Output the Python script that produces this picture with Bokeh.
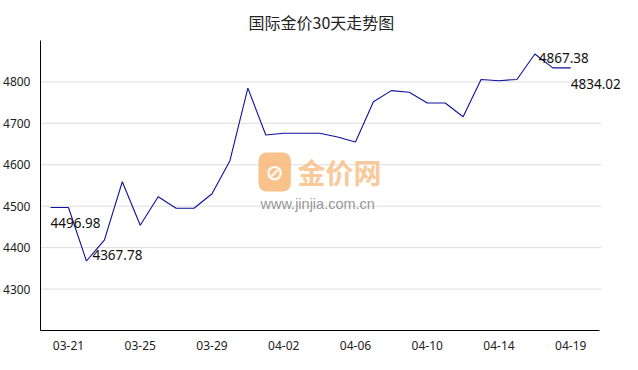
from bokeh.plotting import figure
from bokeh.models import ColumnDataSource, FixedTicker, Range1d, Label
from bokeh.embed import file_html
from bokeh.resources import INLINE

dates = ["03-21", "03-22", "03-23", "03-24", "03-25", "03-26", "03-27", "03-28",
         "03-29", "03-30", "03-31", "04-01", "04-02", "04-03", "04-04", "04-05",
         "04-06", "04-07", "04-08", "04-09", "04-10", "04-11", "04-12", "04-13",
         "04-14", "04-15", "04-16", "04-17", "04-18", "04-19"]
prices = [4496.98, 4497.0, 4367.78, 4418.0, 4559.0, 4454.0, 4523.0, 4495.0,
          4495.0, 4530.0, 4610.0, 4785.0, 4672.0, 4676.0, 4676.0, 4676.0,
          4667.0, 4655.0, 4752.0, 4779.0, 4775.0, 4749.0, 4749.0, 4716.0,
          4806.0, 4803.0, 4806.0, 4867.38, 4834.0, 4834.02]
tick_labels = ["03-21", "03-25", "03-29", "04-02", "04-06", "04-10", "04-14", "04-19"]
y_ticks = [4300, 4400, 4500, 4600, 4700, 4800]
title_text = "国际金价30天走势图"

idx = list(range(len(prices)))
imin = prices.index(min(prices))
imax = prices.index(max(prices))
ann_idx = [0, imin, imax, len(prices) - 1]
ann_dx = [0, 6, 4, 0]
ann_dy = [-16, 6, -4, -16]   # positive = up

# axis extent (in index units) and extra room on the right for the last label
x_lo, x_hi, x_view = -0.56, 30.6, 32.22
y_lo, y_hi = 4200, 4900

p = figure(width=638, height=370, output_backend="svg", toolbar_location=None,
           x_range=Range1d(x_lo, x_view), y_range=Range1d(y_lo, y_hi),
           min_border_left=40, min_border_right=10, min_border_top=40, min_border_bottom=40,
           title=title_text)
p.title.align = "left"
p.title.offset = 208
p.title.text_font = "Noto Sans CJK SC"
p.title.text_font_size = "16px"
p.title.text_font_style = "normal"
p.title.text_color = "#222222"
p.title.standoff = 13
p.outline_line_color = None
p.background_fill_color = "white"
p.border_fill_color = "white"

# horizontal grid lines limited to the axis extent
p.segment(x0=[x_lo] * len(y_ticks), y0=y_ticks, x1=[x_hi + 0.1] * len(y_ticks), y1=y_ticks,
          line_color="#dddddd", line_width=1)

# watermark (screen units, relative to the plot frame)
p.add_layout(Label(x=218, y=139, x_units="screen", y_units="screen", text="⊘",
                   text_font="DejaVu Sans", text_font_size="22px", text_color="white",
                   text_font_style="bold",
                   background_fill_color="#f9b777", background_fill_alpha=0.85,
                   border_radius=8, padding=7, text_alpha=0.95))
p.add_layout(Label(x=257, y=139, x_units="screen", y_units="screen", text="金价网",
                   text_font="Noto Sans CJK SC", text_font_size="28px",
                   text_font_style="bold", text_color="#f9c28c", text_alpha=0.9))
p.add_layout(Label(x=220, y=119, x_units="screen", y_units="screen", text="www.jinjia.com.cn",
                   text_font="Liberation Sans", text_font_size="14.5px",
                   text_color="#8a8a8a", text_alpha=0.9))

src = ColumnDataSource(dict(x=idx, y=prices))
p.line("x", "y", source=src, line_color="#10109c", line_width=1.1)

for i, dx, dy in zip(ann_idx, ann_dx, ann_dy):
    p.add_layout(Label(x=idx[i], y=prices[i], text="%.2f" % prices[i],
                       x_offset=dx, y_offset=dy,
                       text_font="Noto Sans", text_font_size="13.5px", text_color="#111111",
                       text_baseline="middle", text_align="left"))

# axes
p.xaxis.ticker = FixedTicker(ticks=[1 + 4 * i for i in range(len(tick_labels))])
p.xaxis.major_label_overrides = {1 + 4 * i: lab for i, lab in enumerate(tick_labels)}
p.xaxis.bounds = (x_lo, x_hi)
p.yaxis.ticker = FixedTicker(ticks=y_ticks)
for ax in (p.xaxis, p.yaxis):
    ax.axis_line_color = "black"
    ax.axis_line_width = 1
    ax.major_tick_line_color = None
    ax.minor_tick_line_color = None
    ax.major_label_text_font = "Noto Sans"
    ax.major_label_text_font_size = "12px"
    ax.major_label_text_color = "#222222"
p.xaxis.major_label_standoff = 4
p.yaxis.major_label_standoff = 4
p.xgrid.grid_line_color = None
p.ygrid.grid_line_color = None

open("out.html", "w").write(file_html(p, INLINE))
